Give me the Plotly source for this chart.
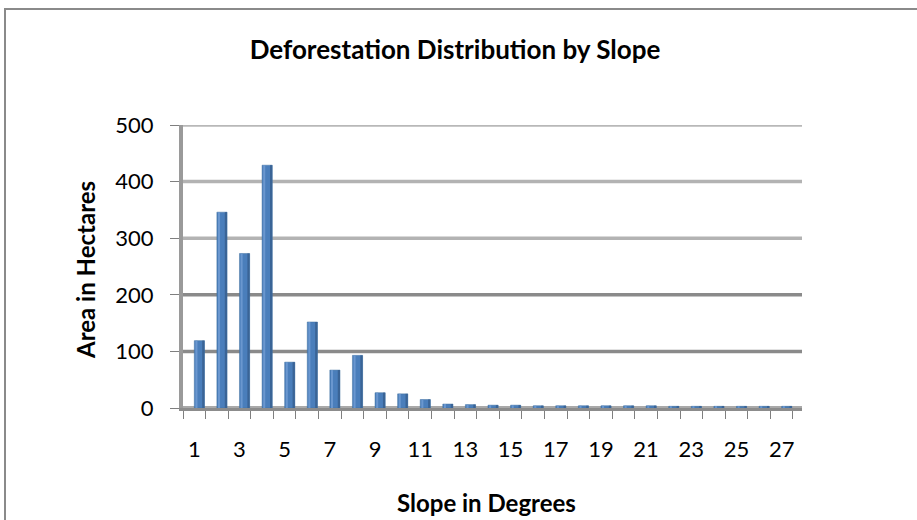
import plotly.graph_objects as go

# Slope classes (degrees) and deforested area per class (hectares)
slope_deg = list(range(1, 28))
area_ha = [119, 346, 273, 429, 81, 152, 67, 93, 27, 25, 15, 7, 6, 5, 5, 4, 4, 4, 4, 4, 4, 3, 3, 3, 3, 3, 3]
x_tick_vals = list(range(1, 28, 2))
x_tick_text = [str(v) for v in x_tick_vals]
y_tick_vals = [0, 100, 200, 300, 400, 500]

W, H = 917, 520
L, R, T, B = 183, 115, 125, 112
pw, ph = W - L - R, H - T - B

FONT = "Lato"
BAR_W = 0.45

fig = go.Figure()
# column body
fig.add_trace(go.Bar(
    x=slope_deg, y=area_ha, width=BAR_W, offset=0.0,
    marker=dict(color="#4a7ebb", line=dict(color="#41709f", width=0.5)),
    hoverinfo="x+y",
))
# lighter left face highlight
fig.add_trace(go.Bar(
    x=slope_deg, y=area_ha, width=0.09, offset=0.05,
    marker=dict(color="#6a97cf", line=dict(width=0)),
    hoverinfo="skip",
))
# darker right edge
fig.add_trace(go.Bar(
    x=slope_deg, y=area_ha, width=0.1, offset=BAR_W - 0.1,
    marker=dict(color="#3a6496", line=dict(width=0)),
    hoverinfo="skip",
))

fig.update_layout(
    width=W, height=H,
    margin=dict(l=L, r=R, t=T, b=B, pad=0),
    paper_bgcolor="white", plot_bgcolor="white",
    showlegend=False, barmode="overlay",
    font=dict(family=FONT, color="#000000", size=22),
    title=dict(text="<b>Deforestation Distribution by Slope</b>",
               x=(455 - L) / pw, xref="paper", xanchor="center",
               y=1 - 50 / H, yref="container", yanchor="middle",
               font=dict(size=26, family=FONT)),
)

# back-wall gridlines (lower ones rendered darker, as on the chart wall)
grid_colors = {100: "#8a8a8a", 200: "#8a8a8a", 300: "#b3b3b3", 400: "#b3b3b3", 500: "#b8b8b8"}
for v in y_tick_vals[1:]:
    fig.add_shape(type="line", xref="paper", yref="y", layer="below",
                  x0=0, x1=1, y0=v, y1=v,
                  line=dict(color=grid_colors[v], width=3.5))
# floor
fig.add_shape(type="line", xref="paper", yref="y", layer="below",
              x0=0, x1=1, y0=y_tick_vals[0], y1=y_tick_vals[0],
              line=dict(color="#a9a9a9", width=4))

fig.update_xaxes(
    range=[0.5, 27.9], showgrid=False, zeroline=False,
    tickmode="array", tickvals=x_tick_vals, ticktext=x_tick_text,
    ticks="", ticklabelstandoff=20,
    showline=True, linecolor="#8c8c8c", linewidth=3,
    minor=dict(ticks="outside", tick0=0.5, dtick=1, ticklen=8,
               tickcolor="#7f7f7f", tickwidth=1, showgrid=False),
    tickfont=dict(size=22, family=FONT),
)
fig.update_yaxes(
    range=[0, 500], tickmode="array", tickvals=y_tick_vals,
    showgrid=False, zeroline=False,
    ticks="outside", ticklen=9, tickcolor="#7f7f7f", tickwidth=1,
    ticklabelstandoff=12,
    showline=True, linecolor="#9a9a9a", linewidth=4,
    tickfont=dict(size=22, family=FONT),
)

# axis titles
fig.add_annotation(text="<b>Area in Hectares</b>", xref="paper", yref="paper",
                   x=(85 - L) / pw, y=(H - 270 - B) / ph, textangle=-90,
                   showarrow=False, font=dict(size=24, family=FONT),
                   xanchor="center", yanchor="middle")
fig.add_annotation(text="<b>Slope in Degrees</b>", xref="paper", yref="paper",
                   x=(486 - L) / pw, y=(H - 502 - B) / ph,
                   showarrow=False, font=dict(size=24, family=FONT),
                   xanchor="center", yanchor="middle")

# chart frame
fig.add_shape(type="rect", xref="paper", yref="paper", layer="below",
              x0=(5 - L) / pw, x1=(W + 20 - L) / pw,
              y0=(H - (H + 20) - B) / ph, y1=(H - 9 - B) / ph,
              line=dict(color="#8a8a8a", width=2), fillcolor="rgba(0,0,0,0)")

fig.write_html("out.html")
